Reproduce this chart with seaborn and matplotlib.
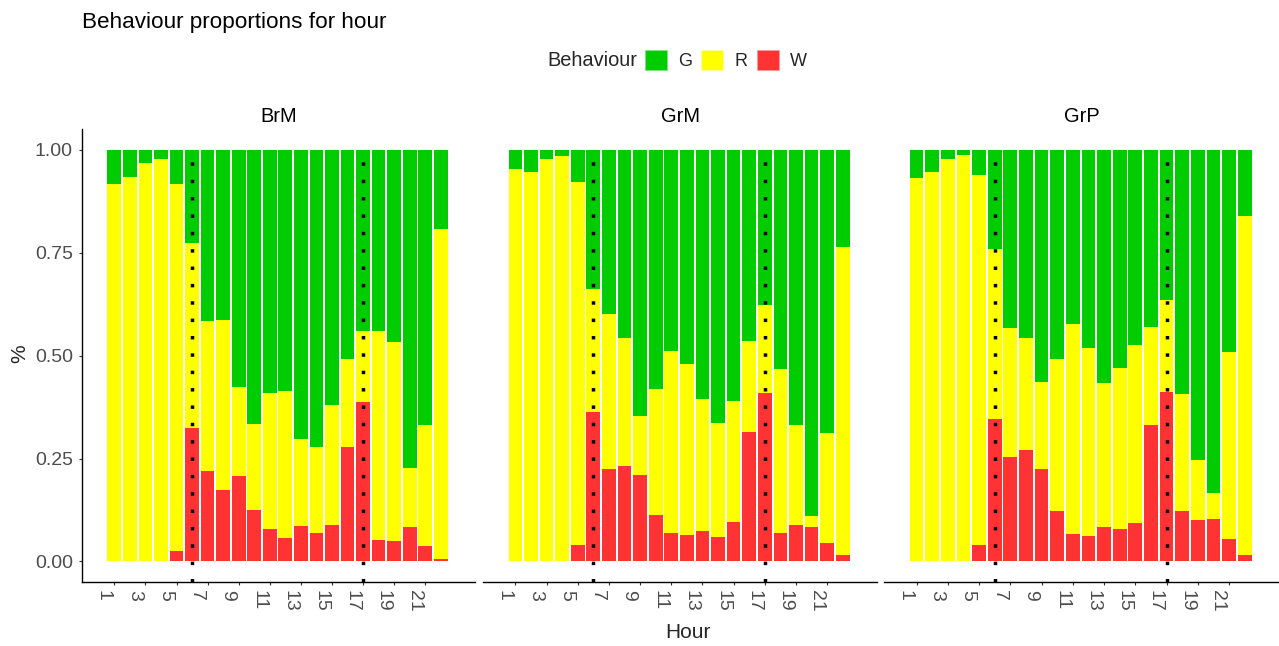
import numpy as np
import pandas as pd
import matplotlib
matplotlib.use("Agg")
import matplotlib.pyplot as plt
from matplotlib.patches import Patch
from matplotlib.transforms import ScaledTranslation
import seaborn as sns

# ---------------- data ----------------
hours = list(range(1, 23))
panels = ["BrM", "GrM", "GrP"]
behaviours = ["G", "R", "W"]
tick_hours = [1, 3, 5, 7, 9, 11, 13, 15, 17, 19, 21]
tick_labels = [str(h) for h in tick_hours]
marker_hours = [6, 17]
colors = {"G": "#00CC00", "R": "#FFFF00", "W": "#FF3333"}

brm_G = [0.083, 0.065, 0.031, 0.023, 0.083, 0.227, 0.415, 0.413, 0.577, 0.666, 0.590,
         0.585, 0.703, 0.723, 0.619, 0.509, 0.440, 0.440, 0.467, 0.774, 0.669, 0.191]
brm_R = [0.917, 0.935, 0.969, 0.977, 0.892, 0.449, 0.366, 0.413, 0.215, 0.209, 0.330,
         0.357, 0.212, 0.207, 0.293, 0.212, 0.172, 0.508, 0.484, 0.143, 0.293, 0.802]
brm_W = [0.000, 0.000, 0.000, 0.000, 0.025, 0.324, 0.219, 0.174, 0.208, 0.125, 0.080,
         0.058, 0.085, 0.070, 0.088, 0.279, 0.388, 0.052, 0.049, 0.083, 0.038, 0.007]

grm_G = [0.046, 0.054, 0.023, 0.015, 0.078, 0.339, 0.399, 0.457, 0.646, 0.580, 0.488,
         0.520, 0.606, 0.664, 0.609, 0.465, 0.376, 0.533, 0.669, 0.889, 0.687, 0.235]
grm_R = [0.954, 0.946, 0.977, 0.985, 0.881, 0.298, 0.377, 0.311, 0.143, 0.306, 0.442,
         0.416, 0.319, 0.277, 0.294, 0.220, 0.214, 0.397, 0.243, 0.028, 0.267, 0.750]
grm_W = [0.000, 0.000, 0.000, 0.000, 0.041, 0.363, 0.224, 0.232, 0.211, 0.114, 0.070,
         0.064, 0.075, 0.059, 0.097, 0.315, 0.410, 0.070, 0.088, 0.083, 0.046, 0.015]

grp_G = [0.067, 0.054, 0.023, 0.012, 0.062, 0.240, 0.433, 0.457, 0.564, 0.509, 0.423,
         0.481, 0.567, 0.530, 0.475, 0.431, 0.364, 0.593, 0.753, 0.833, 0.491, 0.161]
grp_R = [0.931, 0.944, 0.977, 0.988, 0.899, 0.415, 0.312, 0.271, 0.212, 0.369, 0.510,
         0.457, 0.350, 0.390, 0.432, 0.237, 0.224, 0.285, 0.146, 0.063, 0.455, 0.824]
grp_W = [0.002, 0.002, 0.000, 0.000, 0.039, 0.345, 0.255, 0.272, 0.224, 0.122, 0.067,
         0.062, 0.083, 0.080, 0.093, 0.332, 0.412, 0.122, 0.101, 0.104, 0.054, 0.015]

values = {
    "BrM": {"G": brm_G, "R": brm_R, "W": brm_W},
    "GrM": {"G": grm_G, "R": grm_R, "W": grm_W},
    "GrP": {"G": grp_G, "R": grp_R, "W": grp_W},
}

# long table with stacked tops (W bottom, R middle, G top)
rows = []
for p in panels:
    w = np.array(values[p]["W"])
    r = np.array(values[p]["R"])
    g = np.array(values[p]["G"])
    tops = {"W": w, "R": w + r, "G": w + r + g}
    for b in behaviours:
        for h, v, t in zip(hours, values[p][b], tops[b]):
            rows.append({"Panel": p, "Hour": h, "Behaviour": b, "Value": v, "Top": t})
df = pd.DataFrame(rows)

# ---------------- style ----------------
sns.set_style("ticks")
plt.rcParams["font.family"] = ["Liberation Sans", "DejaVu Sans"]

W_PX, H_PX = 1279, 646
fig = plt.figure(figsize=(W_PX / 100, H_PX / 100), dpi=100)

panel_px = [(82, 475), (483, 877), (884, 1279)]
top_px, bot_px = 129.4, 582.0

tick_color = "#4D4D4D"
for i, (p, (l, r)) in enumerate(zip(panels, panel_px)):
    ax = fig.add_axes([l / W_PX, 1 - bot_px / H_PX, (r - l) / W_PX, (bot_px - top_px) / H_PX])
    sub = df[df.Panel == p]
    for b in ["G", "R", "W"]:
        sns.barplot(data=sub[sub.Behaviour == b], x="Hour", y="Top", native_scale=True,
                    color=colors[b], saturation=1, width=0.88, linewidth=0,
                    errorbar=None, ax=ax, zorder=2)
    for mh in marker_hours:
        ax.plot([mh, mh], [-0.05, 1.0], color="black", linewidth=2.5,
                linestyle=(0, (1, 4.0)), dash_capstyle="butt", zorder=5, clip_on=False)
    ax.set_xlim(-1.08, 24.2)
    ax.set_ylim(-0.05, 1.05)
    ax.set_xlabel("")
    ax.set_ylabel("")
    ax.set_xticks(tick_hours)
    ax.set_xticklabels(tick_labels, rotation=270, ha="center", va="top")
    ax.tick_params(axis="x", length=2.5, width=0.8, color="#333333", labelsize=14,
                   labelcolor=tick_color, pad=3.2)
    offset = ScaledTranslation(-11 / 100, 0, fig.dpi_scale_trans)
    for lab in ax.get_xticklabels():
        lab.set_transform(lab.get_transform() + offset)
    ax.spines["top"].set_visible(False)
    ax.spines["right"].set_visible(False)
    ax.spines["bottom"].set_linewidth(1.0)
    ax.spines["bottom"].set_color("black")
    if i == 0:
        ax.set_yticks([0, 0.25, 0.5, 0.75, 1.0])
        ax.set_yticklabels(["0.00", "0.25", "0.50", "0.75", "1.00"])
        ax.tick_params(axis="y", length=2.5, width=0.8, color="#333333", labelsize=14,
                       labelcolor=tick_color, pad=4)
        ax.spines["left"].set_linewidth(1.0)
        ax.spines["left"].set_color("black")
    else:
        ax.set_yticks([])
        ax.spines["left"].set_visible(False)
    ax.set_title(p, fontsize=14.4, color="black", pad=5.3)

# titles and labels
fig.text(82 / W_PX, 1 - 28 / H_PX, "Behaviour proportions for hour", fontsize=16.2,
         ha="left", va="baseline", color="black")
fig.text(688 / W_PX, 1 - 633 / H_PX, "Hour", fontsize=15, ha="center", va="center")
fig.text(20 / W_PX, 1 - 354 / H_PX, "%", fontsize=15, rotation=90, ha="center", va="center")

# legend
fig.text(637 / W_PX, 1 - 60 / H_PX, "Behaviour", fontsize=14.4, ha="right", va="center")
edge_cols = {"G": "#7FE57F", "R": "#FFFF99", "W": "#FF9999"}
handles = [Patch(facecolor=colors[b], edgecolor=edge_cols[b], linewidth=0.6) for b in behaviours]
fig.legend(handles, behaviours, loc="center left", bbox_to_anchor=(645 / W_PX, 1 - 60 / H_PX),
           ncol=3, frameon=False, fontsize=13, handlelength=1.22, handleheight=1.33,
           handletextpad=0.62, columnspacing=0.5, borderpad=0, borderaxespad=0)

fig.savefig("out.png", dpi=100)
